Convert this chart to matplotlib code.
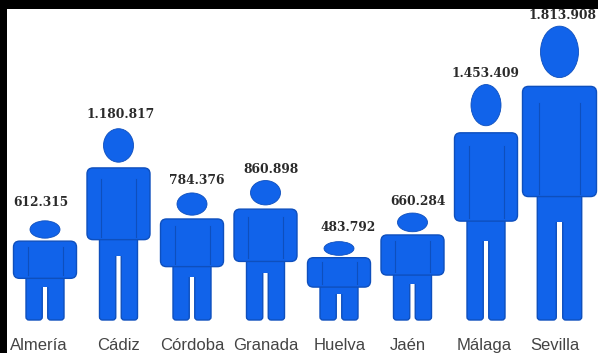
import matplotlib
matplotlib.use('Agg')
import matplotlib.pyplot as plt
from matplotlib.patches import Ellipse, FancyBboxPatch, Rectangle

# Population by province
provinces = ['Almería', 'Cádiz', 'Córdoba', 'Granada', 'Huelva', 'Jaén', 'Málaga', 'Sevilla']
population = [612315, 1180817, 784376, 860898, 483792, 660284, 1453409, 1813908]
value_labels = ['612.315', '1.180.817', '784.376', '860.898', '483.792', '660.284', '1.453.409', '1.813.908']

# Layout, in pixels
ground = 320
first_x = 45
step = 73.5
px_per_person = 0.000162
body_widths = [65, 65, 65, 65, 65, 65, 65, 76]
label_shift = [-4, 2, 5, 6, 9, 5, -1, 3]
label_gap = [18, 14, 12, 11, 14, 12, 11, 11]
name_shift = [-6.5, 0, 0, 0.5, 1, -4.5, -2, -4.5]

blue = '#1163ea'
edge = '#0e4fbd'

fig = plt.figure(figsize=(5.98, 3.53), dpi=100)
ax = fig.add_axes([0, 0, 1, 1])
ax.set_xlim(0, 598)
ax.set_ylim(353, 0)
ax.axis('off')


def draw_person(cx, height, width):
    top = ground - height
    scale = width / 65
    # Two legs joined at the hip
    leg_w = 38 * scale
    gap = 5.5 * scale
    hip = top + 0.55 * height
    crotch = ground - 0.335 * height
    one_leg = (leg_w - gap) / 2
    for x in (cx - leg_w / 2, cx + gap / 2):
        ax.add_patch(FancyBboxPatch((x, hip), one_leg, ground - hip,
                                    boxstyle='round,pad=0,rounding_size=3', fc=blue, ec=edge, lw=1))
    ax.add_patch(Rectangle((cx - gap / 2 - 1, hip), gap + 2, crotch - hip, fc=blue, ec='none'))
    # Torso with arms
    t_top = top + 0.205 * height
    t_h = 0.375 * height
    ax.add_patch(FancyBboxPatch((cx - width / 2 + 1, t_top), width - 2, t_h,
                                boxstyle='round,pad=0,rounding_size=6', fc=blue, ec=edge, lw=1))
    for side in (-1, 1):
        x = cx + side * (width / 2 - 15 * scale)
        ax.plot([x, x], [t_top + 0.15 * t_h, t_top + t_h - 3], color=edge, lw=0.8)
    # Head
    head_h = 0.175 * height
    head_w = 38 if width > 65 else 30
    ax.add_patch(Ellipse((cx, top + head_h / 2), head_w, head_h, fc=blue, ec=edge, lw=0.6))


for i, value in enumerate(population):
    cx = first_x + step * i
    height = value * px_per_person
    draw_person(cx, height, body_widths[i])
    ax.text(cx + label_shift[i], ground - height - label_gap[i], value_labels[i], ha='center', va='center',
            fontsize=8.8, fontweight='bold', family='DejaVu Serif', color='#2a2a2a', zorder=5)
    ax.text(cx + name_shift[i], 345.5, provinces[i], ha='center', va='center',
            fontsize=12, family='Liberation Sans', color='#444444')

# Black edge along the top and left
ax.add_patch(Rectangle((0, 0), 598, 9, fc='black', ec='none', zorder=10))
ax.add_patch(Rectangle((0, 0), 7, 353, fc='black', ec='none', zorder=10))

fig.savefig('out.png', dpi=100)
